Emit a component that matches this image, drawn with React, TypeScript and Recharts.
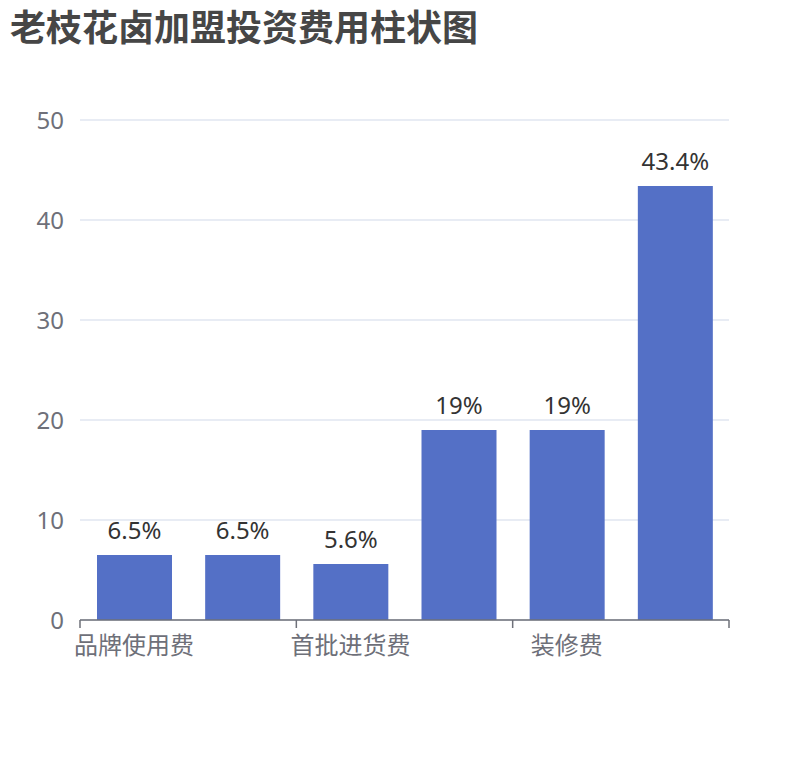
import React from "react"
import { Bar, BarChart, CartesianGrid, LabelList, XAxis, YAxis } from "recharts"

// categories 1, 3 and 5 have their labels hidden by the axis interval
const categories = ["品牌使用费", "加盟费", "首批进货费", "设备费", "装修费", "其他费用"]
const shares = [6.5, 6.5, 5.6, 19, 19, 43.4]
const yTicks = [0, 10, 20, 30, 40, 50]

const data = categories.map((name, i) => ({ name, value: shares[i] }))

const FONT = "'Noto Sans', 'Noto Sans CJK SC', sans-serif"
const AXIS_COLOR = "#6E7079"

const CategoryTick = (props: any) => {
  const { x, y, payload } = props
  const half = payload.offset || 0
  const isLastShown = payload.index === categories.length - 2
  return (
    <g>
      <line x1={x - half} y1={y} x2={x - half} y2={y + 8} stroke={AXIS_COLOR} strokeWidth={1.5} />
      {isLastShown && (
        <line x1={x + 3 * half} y1={y} x2={x + 3 * half} y2={y + 8} stroke={AXIS_COLOR} strokeWidth={1.5} />
      )}
      <text x={x} y={y + 34} textAnchor="middle" fill={AXIS_COLOR} fontSize={24} fontFamily={FONT}>
        {payload.value}
      </text>
    </g>
  )
}

export default function App() {
  return (
    <div style={{ position: "absolute", left: 0, top: 0, width: 810, height: 760, background: "#fff" }}>
      <div
        style={{
          position: "absolute",
          left: 10,
          top: 4,
          fontFamily: "'Noto Sans CJK SC', sans-serif",
          fontWeight: 700,
          fontSize: 36,
          lineHeight: "42px",
          color: "#464646",
          whiteSpace: "nowrap",
        }}
      >
        老枝花卤加盟投资费用柱状图
      </div>
      <BarChart width={810} height={760} data={data} margin={{ top: 120, right: 81, bottom: 110, left: 0 }}>
        <CartesianGrid vertical={false} stroke="#E0E6F1" strokeWidth={1.5} />
        <XAxis
          dataKey="name"
          interval={1}
          height={30}
          tickSize={0}
          tickMargin={0}
          tickLine={false}
          axisLine={{ stroke: AXIS_COLOR, strokeWidth: 1.5 }}
          tick={<CategoryTick />}
        />
        <YAxis
          width={80}
          domain={[0, 50]}
          ticks={yTicks}
          axisLine={false}
          tickLine={false}
          tickSize={0}
          tickMargin={16}
          tick={{ fill: AXIS_COLOR, fontSize: 24, fontFamily: FONT }}
        />
        <Bar dataKey="value" fill="#5470C6" barSize={75} isAnimationActive={false}>
          <LabelList
            dataKey="value"
            position="top"
            offset={16}
            formatter={(v: any) => `${v}%`}
            style={{ fill: "#333", fontSize: 24, fontFamily: FONT }}
          />
        </Bar>
      </BarChart>
    </div>
  )
}
